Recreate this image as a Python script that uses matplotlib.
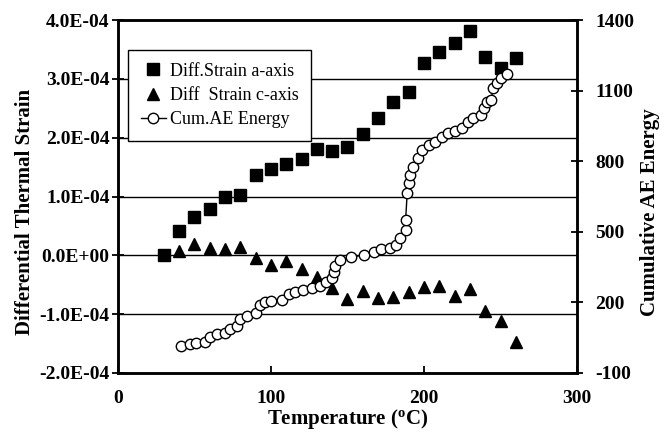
import matplotlib
matplotlib.use("Agg")
import matplotlib.pyplot as plt

# Data
temp_a = [30, 40, 50, 60, 70, 80, 90, 100, 110, 120, 130, 140, 150, 160, 170, 180, 190,
          200, 210, 220, 230, 240, 250, 260]
strain_a = [0.0, 0.41, 0.65, 0.78, 1.00, 1.03, 1.37, 1.47, 1.56, 1.63, 1.80, 1.78, 1.85,
            2.07, 2.34, 2.60, 2.77, 3.27, 3.46, 3.61, 3.81, 3.37, 3.18, 3.35]
strain_a = [v * 1e-4 for v in strain_a]

temp_c = [40, 50, 60, 70, 80, 90, 100, 110, 120, 130, 140, 150, 160, 170, 180, 190,
          200, 210, 220, 230, 240, 250, 260]
strain_c = [0.07, 0.20, 0.13, 0.10, 0.14, -0.04, -0.17, -0.10, -0.23, -0.36, -0.55, -0.74,
            -0.60, -0.72, -0.71, -0.63, -0.54, -0.52, -0.69, -0.58, -0.95, -1.12, -1.47]
strain_c = [v * 1e-4 for v in strain_c]

temp_ae = [41, 47, 51, 57, 60, 65, 70, 73, 78, 80, 84, 90, 93, 96, 100, 107, 112, 116,
           121, 127, 132, 136, 140, 141, 142, 145, 152, 161, 167, 172, 178, 182, 184, 188,
           188, 189, 190, 191, 193, 196, 199, 203, 207, 212, 216, 220, 225, 229, 232, 237,
           239, 241, 244, 245, 248, 250, 254]
energy_ae = [15, 23, 28, 32, 53, 66, 70, 87, 100, 130, 142, 155, 189, 202, 206, 210, 236,
             244, 253, 261, 270, 287, 304, 330, 355, 380, 393, 401, 414, 427, 431, 444, 474,
             508, 550, 665, 707, 740, 775, 814, 848, 869, 881, 903, 920, 928, 941, 967, 984,
             996, 1026, 1052, 1060, 1111, 1132, 1154, 1171]

left_ticks = [-2e-4, -1e-4, 0, 1e-4, 2e-4, 3e-4, 4e-4]
left_labels = ["-2.0E-04", "-1.0E-04", "0.0E+00", "1.0E-04", "2.0E-04", "3.0E-04", "4.0E-04"]
right_ticks = [-100, 200, 500, 800, 1100, 1400]
x_ticks = [0, 100, 200, 300]

plt.rcParams['font.family'] = ['Liberation Serif', 'DejaVu Serif']
plt.rcParams['mathtext.fontset'] = 'custom'
plt.rcParams['mathtext.rm'] = 'Liberation Serif:bold'
plt.rcParams['mathtext.it'] = 'Liberation Serif:bold'
plt.rcParams['axes.unicode_minus'] = False

fig = plt.figure(figsize=(6.68, 4.36), dpi=100)
ax = fig.add_axes([0.1766, 0.1445, 0.6872, 0.8095])
ax2 = ax.twinx()

ax.set_xlim(0, 300)
ax.set_ylim(-2e-4, 4e-4)
ax2.set_ylim(-100, 1400)

for yv in left_ticks[1:-1]:
    ax.axhline(yv, color='black', lw=1.0, zorder=0)

ax.plot(temp_a, strain_a, linestyle='none', marker='s', ms=8, color='black',
        label='Diff.Strain a-axis', zorder=3)
ax.plot(temp_c, strain_c, linestyle='none', marker='^', ms=8, color='black',
        label='Diff  Strain c-axis', zorder=3)
l3, = ax2.plot(temp_ae, energy_ae, '-', color='black', lw=1.0, marker='o', ms=7.5,
               mfc='white', mec='black', mew=1.0, label='Cum.AE Energy')

ax.set_xticks(x_ticks)
ax.set_yticks(left_ticks)
ax.set_yticklabels(left_labels)
ax2.set_yticks(right_ticks)

for lab in ax.get_xticklabels() + ax.get_yticklabels() + ax2.get_yticklabels():
    lab.set_fontweight('bold')
    lab.set_fontsize(14)

ax.tick_params(axis='y', direction='inout', length=8, width=1.3, pad=2)
ax.tick_params(axis='x', direction='in', length=5, width=1.3, pad=12)
ax2.tick_params(axis='y', direction='inout', length=8, width=1.3, pad=9)

for a in (ax, ax2):
    for s in a.spines.values():
        s.set_linewidth(1.8)

ax.set_xlabel('Temperature ($^{o}$C)', fontweight='bold', fontsize=15, labelpad=0)
ax.set_ylabel('Differential Thermal Strain', fontweight='bold', fontsize=15)
ax2.set_ylabel('Cumulative AE Energy', fontweight='bold', fontsize=15)
ax.yaxis.set_label_coords(-0.181, 0.456)
ax2.yaxis.set_label_coords(1.137, 0.456)

h1, lb1 = ax.get_legend_handles_labels()
leg = ax2.legend(h1 + [l3], lb1 + ['Cum.AE Energy'], loc='upper left',
                 bbox_to_anchor=(0.022, 0.915), borderaxespad=0, fancybox=False,
                 framealpha=1, edgecolor='black', fontsize=13, handlelength=1.4,
                 handletextpad=0.2, borderpad=0.7, labelspacing=0.4)
leg.get_frame().set_linewidth(1.0)

fig.savefig('out.png', dpi=100)
